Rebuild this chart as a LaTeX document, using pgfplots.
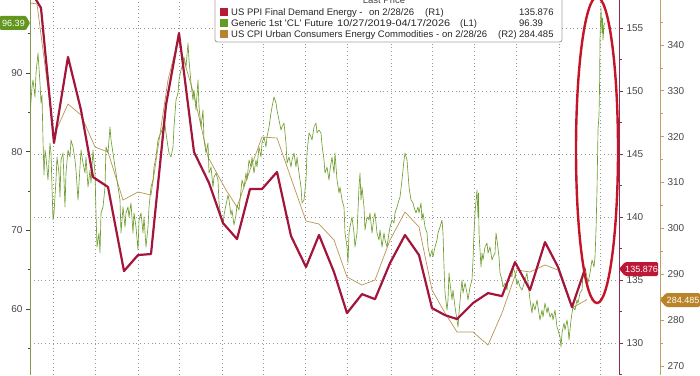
\documentclass[border=0pt]{standalone}
\usepackage{fontspec}
\setmainfont{Liberation Sans}
\usepackage{graphicx}
\usepackage{pgfplots}
\pgfplotsset{compat=1.18}
\definecolor{ppi}{RGB}{163,21,58}
\definecolor{cl}{RGB}{112,158,48}
\definecolor{cpi}{RGB}{182,148,85}
\definecolor{clax}{RGB}{130,155,80}
\definecolor{ppiax}{RGB}{140,45,80}
\definecolor{cpiax}{RGB}{190,160,100}
\definecolor{labgray}{RGB}{70,70,70}
\definecolor{gridgray}{RGB}{150,150,150}
\definecolor{ellred}{RGB}{196,20,40}
\definecolor{tagcl}{RGB}{98,150,30}
\definecolor{tagppi}{RGB}{190,22,55}
\definecolor{tagcpi}{RGB}{185,132,40}
\definecolor{legppi}{RGB}{180,28,50}
\definecolor{legcl}{RGB}{100,155,35}
\definecolor{legcpi}{RGB}{185,130,45}
\pgfplotsset{
  base/.style={scale only axis, width=589pt, height=375pt, at={(30pt,0pt)}, anchor=south west,
    xmin=30, xmax=619, clip=true,
    tick label style={font=\fontsize{10}{12}\selectfont, text=labgray},
    /pgf/number format/assume math mode=true,
    tick align=outside, major tick length=4pt, minor tick length=2.5pt},
}
\begin{document}
\begin{tikzpicture}[x=1pt,y=1pt]
\useasboundingbox (0,0) rectangle (700,375);
% grid only
\begin{axis}[base, ymin=127.46, ymax=157.22,
  axis line style={draw=none}, tick style={draw=none},
  xtick={53.7,95.7,138.3,179.3,222.7,263.3,305.7,347.7,391.3,432.3,474.3,516.7,559.3,600.7},
  ytick={130,135,140,145,150,155}, xticklabels={}, yticklabels={},
  grid=major, grid style={gridgray, line width=0.6pt, dash pattern=on 0.8pt off 3pt}]
\end{axis}
% R2 : CPI energy commodities
\begin{axis}[base, width=630pt, xmin=30, xmax=660, ymin=268.03, ymax=349.81,
  axis y line*=right, axis x line=none,
  ytick={270,280,290,300,310,320,330,340}, minor ytick={275,285,295,305,315,325,335,345},
  y axis line style={cpiax, line width=0.8pt}, ytick style={cpiax, line width=0.7pt}]
\addplot[cpi, line width=0.7pt, line join=round] coordinates {
(30,349.16) (37,348.94) (54,320.37) (68,327.13) (81,324.73) (95,317.75) (108,316.66) (123,306.19) (138,307.94) (151,307.29) (168,332.37) (178,341.09) (194,329.10) (208,315.57) (226,308.38) (237,304.67) (250,312.74) (262,319.93) (277,319.72) (306,301.61) (319,300.96) (334,297.47) (347,289.40) (362,287.65) (375,288.75) (390,297.47) (405,303.58) (419,300.31) (432,286.57) (445,281.55) (457,277.41) (473,277.41) (488,274.57) (502,281.55) (517,290.93) (530,290.49) (545,292.02) (558,290.93) (572,282.64) (587,284.485)};
\end{axis}
% L1 : CL future
\begin{axis}[base, ymin=51.62, ymax=99.28,
  axis y line*=left, axis x line=none,
  ytick={60,70,80,90}, minor ytick={55,65,75,85,95},
  y axis line style={clax, line width=0.8pt}, ytick style={labgray, line width=0.7pt}]
\addplot[cl, line width=0.65pt, line join=round] coordinates {
(30,84.66) (32,88.22) (33,89.11) (35,86.95) (36,90.00) (38,92.54) (40,88.73) (41,86.19) (42,87.21) (43,81.49) (44,77.04) (45,80.21) (46,79.33) (48,76.40) (50,81.10) (51,79.83) (53,71.32) (54,72.21) (56,76.40) (57,79.33) (59,77.29) (60,74.24) (61,78.94) (63,79.83) (65,72.97) (66,77.29) (68,80.21) (70,79.33) (71,81.49) (73,80.60) (75,78.94) (76,77.67) (78,73.86) (80,78.05) (81,80.21) (83,78.56) (85,77.29) (86,79.33) (88,75.51) (90,77.67) (91,76.02) (93,80.21) (95,77.29) (96,72.21) (97,67.89) (99,69.67) (100,67.12) (101,72.21) (103,72.97) (105,75.51) (106,80.60) (108,79.83) (110,83.14) (111,81.49) (113,79.83) (115,78.05) (116,77.29) (118,75.51) (120,73.86) (121,69.67) (123,72.97) (125,70.43) (126,72.21) (128,72.97) (129,71.70) (131,73.48) (133,69.67) (134,72.21) (136,70.43) (138,67.50) (139,71.32) (141,72.21) (143,69.67) (144,71.70) (146,67.89) (148,70.43) (149,72.97) (151,75.51) (153,76.40) (154,78.05) (156,79.33) (158,81.49) (159,81.87) (161,82.38) (163,83.14) (164,84.41) (166,82.38) (168,80.60) (169,79.83) (171,79.33) (173,80.60) (174,83.14) (176,86.57) (178,87.46) (179,89.11) (181,90.38) (183,91.27) (184,92.04) (186,90.76) (188,93.81) (189,91.65) (191,88.73) (193,86.57) (194,87.84) (196,85.30) (198,89.11) (199,85.68) (201,83.14) (203,85.30) (204,81.49) (206,79.83) (208,81.10) (209,77.29) (211,78.05) (213,75.51) (214,76.78) (216,77.29) (218,76.40) (219,73.48) (221,71.70) (223,70.68) (224,71.95) (226,73.22) (228,74.50) (229,73.86) (231,71.95) (232,72.59) (234,70.68) (236,71.95) (237,73.22) (239,72.59) (241,75.13) (242,76.40) (244,75.51) (246,77.29) (247,76.40) (249,78.94) (251,78.05) (252,79.33) (254,77.29) (256,78.94) (257,78.05) (259,80.60) (261,79.33) (262,81.10) (264,81.87) (266,80.60) (267,81.87) (269,83.14) (271,84.92) (272,85.68) (274,86.95) (276,86.19) (277,85.30) (279,84.03) (281,82.76) (282,83.14) (284,83.65) (286,81.10) (287,78.56) (289,79.33) (291,78.05) (292,78.94) (294,79.83) (296,78.05) (297,79.33) (299,77.29) (301,75.51) (302,73.48) (304,73.86) (306,76.40) (307,79.83) (309,82.38) (311,81.87) (312,81.49) (314,83.14) (316,83.65) (317,82.38) (319,82.76) (321,82.38) (322,80.85) (324,78.94) (325,77.29) (327,78.05) (329,76.40) (330,77.67) (332,79.33) (334,77.29) (335,79.83) (337,76.40) (339,74.75) (340,75.51) (342,73.86) (344,72.97) (345,69.67) (347,67.89) (348,65.85) (349,69.67) (350,70.43) (352,71.70) (354,69.67) (355,67.89) (357,69.67) (359,75.51) (360,77.29) (361,73.86) (362,75.51) (364,72.97) (365,70.05) (367,71.70) (369,71.32) (370,72.21) (372,69.67) (374,71.70) (375,72.21) (377,69.67) (379,68.78) (380,70.05) (382,67.89) (384,69.67) (385,68.78) (387,67.89) (389,69.67) (390,70.43) (392,71.32) (394,70.94) (395,72.21) (397,72.97) (399,73.86) (400,74.24) (402,76.40) (404,78.94) (405,79.83) (407,78.94) (408,77.29) (409,75.51) (411,73.86) (413,73.48) (414,72.97) (416,72.21) (418,72.97) (419,72.21) (421,73.48) (422,71.32) (423,72.21) (425,70.43) (427,69.67) (428,67.89) (430,66.62) (432,67.50) (433,66.62) (435,67.89) (437,68.78) (438,69.67) (440,70.43) (442,71.32) (443,69.67) (444,65.34) (445,62.04) (447,59.88) (448,61.15) (449,64.58) (450,63.31) (452,61.15) (453,62.42) (455,60.26) (457,58.61) (458,57.72) (459,59.50) (461,62.42) (462,63.69) (463,62.04) (465,63.31) (467,62.04) (468,61.15) (470,62.80) (472,63.69) (473,66.23) (474,69.67) (475,72.21) (477,75.13) (478,71.70) (478.5,74.75) (479,69.67) (481,65.34) (482,67.12) (483,66.23) (485,67.89) (487,68.39) (488,67.12) (490,67.89) (492,66.23) (493,66.62) (495,67.12) (496,69.67) (497,68.78) (499,66.62) (500,64.58) (502,63.69) (503,62.80) (505,63.31) (507,62.42) (508,63.69) (510,64.58) (512,64.07) (513,65.34) (515,64.58) (517,63.06) (518,63.69) (520,62.80) (522,62.42) (523,62.80) (525,63.69) (527,64.58) (528,63.31) (530,61.15) (532,59.50) (533,60.77) (535,59.88) (537,61.15) (538,60.26) (540,58.61) (542,59.88) (543,58.99) (545,60.77) (547,59.50) (548,60.26) (550,58.99) (552,59.50) (553,58.61) (555,59.88) (557,57.72) (558,57.34) (560,56.45) (561,55.18) (562,56.96) (564,58.23) (565,57.34) (567,58.61) (568,57.72) (569,56.07) (571,58.61) (572,59.50) (573,60.26) (575,59.88) (577,61.15) (578,60.77) (580,62.04) (582,62.42) (583,64.58) (585,65.34) (587,64.07) (588,63.31) (590,64.58) (592,66.23) (593,65.85) (594,65.34) (595,66.62) (596,70.05) (597,75.13) (598,82.76) (599,84.66) (599.5,87.84) (600,94.20) (601,98.26) (602,95.09) (602.5,96.99) (603,94.20) (604,96.10) (605,96.39)};
\end{axis}
% R1 : PPI final demand energy
\begin{axis}[base, ymin=127.46, ymax=157.22,
  axis y line*=right, axis x line=none,
  ytick={130,135,140,145,150,155}, minor ytick={127.5,132.5,137.5,142.5,147.5,152.5,157.5},
  y axis line style={ppiax, line width=0.8pt}, ytick style={ppiax, line width=0.7pt}]
\addplot[ppi, line width=2.2pt, line join=round] coordinates {
(30,158.02) (41,156.59) (54,145.87) (68,152.70) (81,148.49) (93,143.17) (108,142.38) (124,135.71) (138,136.98) (151,137.06) (166,148.89) (179,154.60) (194,145.16) (209,142.70) (223,139.52) (237,138.25) (250,142.22) (262,142.22) (277,143.57) (291,138.49) (306,136.03) (319,138.57) (334,135.63) (347,132.37) (362,133.88) (375,133.48) (390,136.34) (405,138.57) (419,136.98) (432,132.77) (445,132.21) (457,131.90) (473,133.17) (488,133.96) (502,133.72) (515,136.42) (530,134.20) (545,138.01) (558,136.03) (572,132.85) (585,135.876)};
\end{axis}
% highlight ellipse
\draw[ellred, line width=2.4pt] (597,225) ellipse [x radius=21, y radius=153];
% value tags
\fill[tagcl, rounded corners=1pt] (0,345) -- (26,345) -- (30,352) -- (26,359) -- (0,359) -- cycle;
\node[text=white, font=\fontsize{9}{10}\selectfont, inner sep=0] at (13.5,352) {96.39};
\fill[tagppi, rounded corners=1.5pt] (619,106) -- (625,113) -- (658,113) -- (658,99) -- (625,99) -- cycle;
\node[text=white, font=\fontsize{9}{10}\selectfont, inner sep=0] at (641.5,106) {135.876};
\fill[tagcpi, rounded corners=1.5pt] (660,75) -- (666,82) -- (700,82) -- (700,68) -- (666,68) -- cycle;
\node[text=white, font=\fontsize{9}{10}\selectfont, inner sep=0] at (683,75) {284.485};
% legend box
\draw[gray!70, fill=white, rounded corners=2.5pt, line width=0.9pt] (215,333) rectangle (562,382);
\node[text=labgray, font=\fontsize{9.5}{11}\selectfont, inner sep=0, anchor=base] at (384,371) {Last Price};
\fill[legppi] (220,359) rectangle (228,367);
\fill[legcl] (220,348) rectangle (228,356);
\fill[legcpi] (220,337) rectangle (228,345);
\begin{scope}[every node/.style={anchor=base west, inner sep=0, text=black!85, font=\fontsize{9.5}{11}\selectfont}]
\node at (231,359.5) {US PPI Final Demand Energy -};
\node at (369,359.5) {on 2/28/26};
\node at (425,359.5) {(R1)};
\node at (231,348.5) {\scalebox{1.05}[1]{Generic 1st \textquotesingle CL\textquotesingle\ Future}};
\node at (337,348.5) {\scalebox{1.15}[1]{10/27/2019-04/17/2026}};
\node at (460,348.5) {(L1)};
\node at (231,337.5) {US CPI Urban Consumers Energy Commodities -};
\node at (442,337.5) {on 2/28/26};
\node at (498,337.5) {(R2)};
\node at (519,359.5) {135.876};
\node at (519,348.5) {96.39};
\node at (519,337.5) {284.485};
\end{scope}
\end{tikzpicture}
\end{document}
